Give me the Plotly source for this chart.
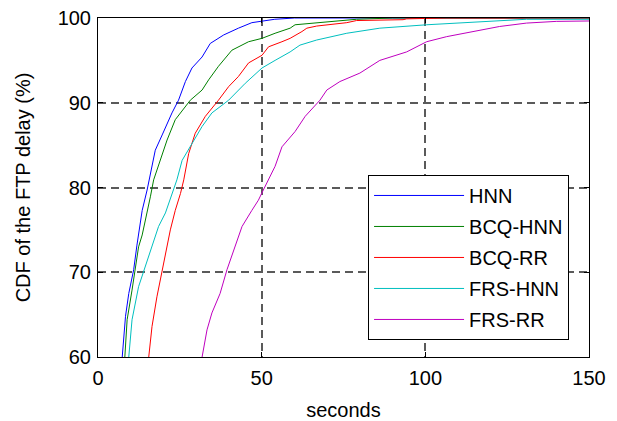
import plotly.graph_objects as go

# ---- data ----
hnn_x = [7.4, 8.4, 9.4, 10.9, 11.9, 13.5, 15.0, 16.5, 17.5, 19.6, 22.6, 24.6, 26.7, 28.7, 31.8, 34.3, 38.4, 42.9, 47.0, 54.0, 60.0, 150.0]
hnn_y = [60.0, 64.8, 67.5, 70.3, 73.2, 77.3, 79.7, 82.5, 84.4, 86.2, 88.8, 90.3, 92.5, 94.1, 95.4, 97.0, 98.0, 98.8, 99.45, 99.85, 100.0, 100.0]

bcq_hnn_x = [8.2, 8.9, 10.4, 11.4, 12.4, 13.5, 15.0, 16.0, 17.0, 19.1, 21.1, 23.6, 25.7, 28.2, 31.8, 33.8, 36.8, 40.9, 46.0, 50.1, 54.1, 58.7, 60.2, 65.8, 72.4, 79.0, 90.0, 150.0]
bcq_hnn_y = [60.0, 64.4, 67.9, 70.3, 73.0, 74.4, 77.0, 78.9, 80.9, 83.2, 85.6, 88.0, 89.1, 90.3, 91.5, 92.7, 94.3, 96.2, 97.2, 97.6, 98.2, 98.8, 99.2, 99.4, 99.6, 99.85, 100.0, 100.0]

bcq_rr_x = [15.5, 16.5, 18.0, 19.6, 20.6, 22.1, 23.6, 25.2, 26.2, 27.7, 29.7, 32.8, 36.8, 39.9, 42.9, 46.0, 50.1, 52.1, 56.2, 58.7, 62.3, 63.8, 66.8, 73.4, 76.0, 79.0, 93.2, 94.3, 106.5, 150.0]
bcq_rr_y = [60.0, 63.6, 67.1, 70.3, 72.2, 75.0, 77.3, 79.3, 80.9, 84.0, 86.4, 88.4, 90.3, 91.9, 93.1, 94.7, 95.6, 96.6, 97.2, 97.6, 98.4, 98.8, 99.05, 99.4, 99.45, 99.7, 99.8, 99.9, 100.0, 100.0]

frs_hnn_x = [9.4, 10.4, 12.4, 14.3, 16.4, 18.5, 20.6, 22.6, 24.1, 25.7, 28.7, 31.8, 34.8, 39.9, 45.0, 50.1, 54.1, 58.7, 61.7, 66.8, 76.0, 86.1, 100.4, 109.5, 121.7, 130.9, 150.0]
frs_hnn_y = [60.0, 64.4, 68.3, 70.6, 73.0, 75.4, 77.0, 79.3, 80.9, 83.2, 85.2, 87.2, 88.8, 90.3, 92.3, 94.1, 95.0, 96.0, 96.8, 97.4, 98.2, 98.8, 99.2, 99.4, 99.6, 99.85, 99.85]

frs_rr_x = [31.8, 33.3, 34.8, 37.3, 39.4, 41.9, 44.0, 47.0, 49.0, 50.5, 52.0, 54.1, 56.2, 60.2, 63.3, 67.8, 69.9, 73.9, 80.0, 86.1, 94.3, 100.4, 106.5, 114.6, 122.7, 130.9, 140.0, 150.0]
frs_rr_y = [60.0, 63.2, 65.2, 67.5, 70.3, 73.0, 75.4, 77.3, 78.5, 79.7, 80.9, 82.5, 84.8, 86.6, 88.4, 90.3, 91.5, 92.5, 93.5, 95.0, 96.0, 97.2, 97.8, 98.4, 99.0, 99.4, 99.6, 99.65]

series_names = ["HNN", "BCQ-HNN", "BCQ-RR", "FRS-HNN", "FRS-RR"]
series_x = [hnn_x, bcq_hnn_x, bcq_rr_x, frs_hnn_x, frs_rr_x]
series_y = [hnn_y, bcq_hnn_y, bcq_rr_y, frs_hnn_y, frs_rr_y]
colors = ["#0000ff", "#008000", "#ff0000", "#00bfbf", "#bf00bf"]

x_ticks = [0, 50, 100, 150]
y_ticks = [60, 70, 80, 90, 100]

FONT = "Arial, Liberation Sans, sans-serif"

fig = go.Figure()
for name, xs, ys, c in zip(series_names, series_x, series_y, colors):
    fig.add_trace(go.Scatter(x=xs, y=ys, mode="lines", name=name,
                             legendgroup=name,
                             line=dict(color=c, width=1)))

axis_common = dict(
    showline=True, linecolor="black", linewidth=1, mirror="ticks",
    ticks="inside", ticklen=5, tickcolor="black",
    showgrid=True, gridcolor="#5a5a5a", griddash="8px,5px", gridwidth=1.5,
    zeroline=False, automargin=False,
    tickfont=dict(family=FONT, size=20, color="black"),
)

fig.update_layout(
    width=617, height=421,
    margin=dict(l=97.5, r=27.5, t=18, b=64),
    paper_bgcolor="white", plot_bgcolor="white",
    font=dict(family=FONT, size=20, color="black"),
    xaxis=dict(range=[0, 150], tickvals=x_ticks, ticklabelstandoff=3,
               title=dict(text="seconds", font=dict(family=FONT, size=20), standoff=17),
               **axis_common),
    yaxis=dict(range=[60, 100], tickvals=y_ticks, ticklabelstandoff=2,
               title=dict(text="CDF of the FTP delay (%)", font=dict(family=FONT, size=20), standoff=21),
               **axis_common),
    legend=dict(x=0.55, y=0.537, xanchor="left", yanchor="top",
                bgcolor="white", bordercolor="black", borderwidth=1,
                font=dict(family=FONT, size=20, color="black"),
                tracegroupgap=2, itemwidth=90),
    showlegend=True,
)

fig.write_html("out.html",
               config={"displayModeBar": False},
               post_script="document.body.style.margin='0px';document.body.style.overflow='hidden';")
